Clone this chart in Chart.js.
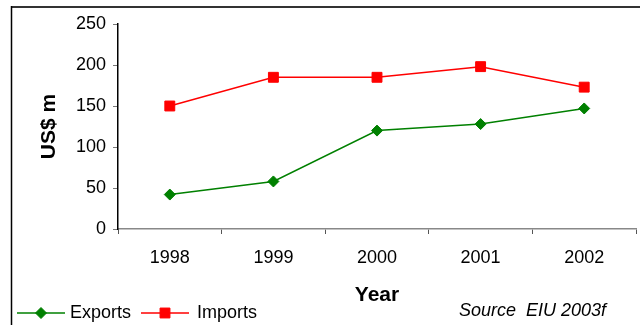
<!DOCTYPE html>
<html>
<head>
<meta charset="utf-8">
<script src="https://cdn.jsdelivr.net/npm/chart.js@4"></script>
<style>
  html, body { margin: 0; padding: 0; background: #fff; }
  #wrap { width: 640px; height: 325px; position: relative; }
</style>
</head>
<body>
<div id="wrap"><canvas id="c" width="640" height="325"></canvas></div>
<script>
// Trade values, US$ million
const years = ['1998', '1999', '2000', '2001', '2002'];
const exportsValues = [42, 58, 120, 128, 147];
const importsValues = [150, 185, 185, 198, 173];
const yTicks = [0, 50, 100, 150, 200, 250];
const sourceNote = 'Source  EIU 2003f';

const FONT = '"Liberation Sans", Arial, sans-serif';

// Outer frame, custom legend and source note
const decorations = {
  id: 'decorations',
  beforeDraw(chart) {
    const ctx = chart.ctx;
    ctx.save();
    ctx.fillStyle = '#fff';
    ctx.fillRect(0, 0, chart.width, chart.height);
    ctx.restore();
  },
  afterDraw(chart) {
    const ctx = chart.ctx;
    ctx.save();
    // frame
    ctx.strokeStyle = '#333';
    ctx.lineWidth = 2;
    ctx.beginPath();
    ctx.moveTo(11, 7);
    ctx.lineTo(640, 7);
    ctx.stroke();
    ctx.strokeStyle = '#000';
    ctx.lineWidth = 1.5;
    ctx.beginPath();
    ctx.moveTo(11.5, 6);
    ctx.lineTo(11.5, 325);
    ctx.stroke();

    // legend
    const y = 313;
    const slots = [{x0: 17, x1: 65, tx: 70}, {x0: 141, x1: 189, tx: 197}];
    chart.data.datasets.forEach((ds, i) => {
      const s = slots[i];
      ctx.strokeStyle = ds.borderColor;
      ctx.lineWidth = ds.borderWidth;
      ctx.beginPath();
      ctx.moveTo(s.x0, y);
      ctx.lineTo(s.x1, y);
      ctx.stroke();
      ctx.fillStyle = ds.pointBackgroundColor;
      ctx.strokeStyle = ds.pointBorderColor;
      ctx.lineWidth = 1;
      Chart.helpers.drawPoint(ctx, {pointStyle: ds.pointStyle, radius: ds.pointRadius, borderWidth: 1}, (s.x0 + s.x1) / 2, y);
      ctx.fillStyle = '#000';
      ctx.font = '18px ' + FONT;
      ctx.textBaseline = 'middle';
      ctx.textAlign = 'left';
      ctx.fillText(ds.label, s.tx, y);
    });

    // source note
    ctx.font = 'italic 18px ' + FONT;
    ctx.fillStyle = '#000';
    ctx.textAlign = 'left';
    ctx.textBaseline = 'middle';
    ctx.fillText(sourceNote, 459, 311);
    ctx.restore();
  }
};

new Chart(document.getElementById('c'), {
  type: 'line',
  data: {
    labels: years,
    datasets: [
      {
        label: 'Exports',
        data: exportsValues,
        borderColor: '#008000',
        backgroundColor: '#008000',
        pointBackgroundColor: '#008000',
        pointBorderColor: '#008000',
        borderWidth: 1.5,
        pointStyle: 'rectRot',
        pointRadius: 5.5,
        pointBorderWidth: 1,
        tension: 0
      },
      {
        label: 'Imports',
        data: importsValues,
        borderColor: '#ff0000',
        backgroundColor: '#ff0000',
        pointBackgroundColor: '#ff0000',
        pointBorderColor: '#ff0000',
        borderWidth: 1.5,
        pointStyle: 'rect',
        pointRadius: 7,
        pointBorderWidth: 1,
        tension: 0
      }
    ]
  },
  options: {
    responsive: false,
    animation: false,
    devicePixelRatio: 1,
    layout: { autoPadding: false, padding: { left: 0, right: 4, top: 24, bottom: 0 } },
    plugins: {
      legend: { display: false },
      tooltip: { enabled: false }
    },
    scales: {
      x: {
        type: 'category',
        offset: true,
        afterFit(scale) {
          scale.height = 96;
          scale.paddingLeft = 0;
          scale.paddingRight = 0;
        },
        grid: {
          offset: true,
          drawOnChartArea: false,
          drawTicks: true,
          tickLength: 5,
          color: '#555'
        },
        border: { display: true, color: '#888', width: 1.5 },
        ticks: {
          color: '#000',
          font: { family: FONT, size: 18 },
          padding: 13,
          maxRotation: 0
        },
        title: {
          display: true,
          text: 'Year',
          color: '#000',
          font: { family: FONT, size: 21, weight: 'bold' },
          padding: { top: 0, bottom: 17 }
        }
      },
      y: {
        min: 0,
        max: 250,
        afterFit(scale) { scale.width = 118; },
        afterBuildTicks(scale) { scale.ticks = yTicks.map(v => ({ value: v })); },
        grid: {
          drawOnChartArea: false,
          drawTicks: true,
          tickLength: 5,
          color: '#777'
        },
        border: { display: true, color: '#000', width: 1.5 },
        ticks: {
          color: '#000',
          font: { family: FONT, size: 18 },
          padding: 7
        },
        title: {
          display: true,
          text: 'US$ m',
          color: '#000',
          font: { family: FONT, size: 21, weight: 'bold' },
          padding: { top: 37, bottom: 0 }
        }
      }
    }
  },
  plugins: [decorations]
});
</script>
</body>
</html>
